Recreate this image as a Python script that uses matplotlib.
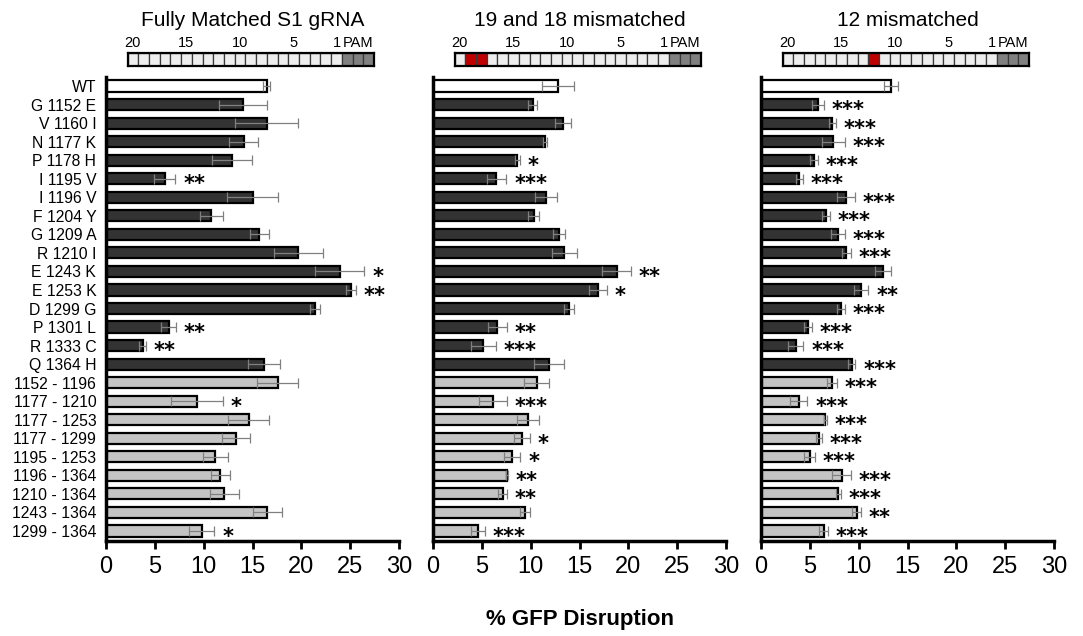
import numpy as np
import matplotlib
matplotlib.use("Agg")
import matplotlib.pyplot as plt

plt.rcParams['font.family'] = ['Liberation Sans', 'DejaVu Sans']

labels = ["WT", "G 1152 E", "V 1160 I", "N 1177 K", "P 1178 H", "I 1195 V", "I 1196 V",
          "F 1204 Y", "G 1209 A", "R 1210 I", "E 1243 K", "E 1253 K", "D 1299 G",
          "P 1301 L", "R 1333 C", "Q 1364 H", "1152 - 1196", "1177 - 1210", "1177 - 1253",
          "1177 - 1299", "1195 - 1253", "1196 - 1364", "1210 - 1364", "1243 - 1364",
          "1299 - 1364"]
groups = ["wt"] + ["single"] * 15 + ["combo"] * 9

titles = ["Fully Matched S1 gRNA", "19 and 18 mismatched", "12 mismatched"]
mismatch_pos = [[], [19, 18], [12]]

m1 = [16.45, 14.0, 16.45, 14.1, 12.9, 6.0, 15.0, 10.8, 15.7, 19.7, 23.95, 25.05, 21.4,
      6.4, 3.75, 16.2, 17.6, 9.3, 14.6, 13.3, 11.2, 11.7, 12.1, 16.5, 9.8]
e1 = [0.35, 2.45, 3.2, 1.5, 2.05, 1.1, 2.65, 1.2, 1.0, 2.5, 2.5, 0.5, 0.5,
      0.75, 0.35, 1.65, 2.1, 2.65, 2.1, 1.4, 1.3, 1.0, 1.5, 1.5, 1.3]
s1 = ["", "", "", "", "", "**", "", "", "", "", "*", "**", "",
      "**", "**", "", "", "*", "", "", "", "", "", "", "*"]

m2 = [12.8, 10.2, 13.3, 11.45, 8.65, 6.5, 11.55, 10.3, 12.9, 13.45, 18.8, 16.9, 13.9,
      6.6, 5.15, 11.9, 10.6, 6.15, 9.75, 9.1, 8.1, 7.6, 7.15, 9.4, 4.6]
e2 = [1.6, 0.45, 0.8, 0.2, 0.25, 1.0, 1.1, 0.6, 0.65, 1.25, 1.45, 0.9, 0.5,
      1.0, 1.3, 1.55, 1.3, 1.45, 1.1, 0.8, 0.85, 0.1, 0.45, 0.5, 0.7]
s2 = ["", "", "", "", "*", "***", "", "", "", "", "**", "*", "",
      "**", "***", "", "", "***", "", "*", "*", "**", "**", "", "***"]

m3 = [13.3, 5.8, 7.3, 7.4, 5.4, 3.9, 8.7, 6.65, 7.9, 8.75, 12.5, 10.25, 8.15,
      4.8, 3.55, 9.3, 7.3, 3.85, 6.6, 5.95, 5.0, 8.25, 7.9, 9.8, 6.4]
e3 = [0.75, 0.6, 0.35, 1.15, 0.4, 0.35, 0.9, 0.4, 0.7, 0.45, 0.85, 0.75, 0.4,
      0.4, 0.8, 0.35, 0.5, 0.9, 0.15, 0.3, 0.55, 0.95, 0.25, 0.45, 0.45]
s3 = ["", "***", "***", "***", "***", "***", "***", "***", "***", "***", "", "**", "***",
      "***", "***", "***", "***", "***", "***", "***", "***", "***", "***", "**", "***"]

means = [m1, m2, m3]
errs = [e1, e2, e3]
stars = [s1, s2, s3]

xticks = [0, 5, 10, 15, 20, 25, 30]
guide_nums = [20, 15, 10, 5, 1]

fill = {"wt": "white", "single": "#333333", "combo": "#c4c4c4"}

W, H = 1083, 636
fig = plt.figure(figsize=(W / 100, H / 100), dpi=100)

lefts = [106, 433, 761]
pw = 293
top_px, bot_px = 77.3, 541
y = np.arange(len(labels))

for i in range(3):
    ax = fig.add_axes([lefts[i] / W, 1 - bot_px / H, pw / W, (bot_px - top_px) / H])
    colors = [fill[g] for g in groups]
    ax.barh(y, means[i], height=0.6, color=colors, edgecolor='black', linewidth=1.6, zorder=2)
    ax.errorbar(means[i], y, xerr=errs[i], fmt='none', ecolor='#808080', elinewidth=0.9,
                capsize=3.5, capthick=0.9, zorder=3)
    for yy, mv, ev, st in zip(y, means[i], errs[i], stars[i]):
        if st:
            ax.text(mv + ev + 0.8, yy + 0.3, st, ha='left', va='center', fontsize=15,
                    fontweight='bold', color='black', family='DejaVu Sans')
    ax.set_xlim(0, 30)
    ax.set_ylim(len(labels) - 0.46, -0.47)
    ax.set_xticks(xticks)
    ax.tick_params(axis='x', direction='out', length=6, width=2, labelsize=17, pad=5)
    ax.tick_params(axis='y', length=0, labelsize=11.3, pad=7)
    if i == 0:
        ax.set_yticks(y)
        ax.set_yticklabels(labels)
    else:
        ax.set_yticks([])
    for side in ['top', 'right']:
        ax.spines[side].set_visible(False)
    for side in ['left', 'bottom']:
        ax.spines[side].set_linewidth(2.5)

    # guide RNA schematic above each panel
    cx = (lefts[i] + pw / 2) / W
    fig.text(cx, 1 - 20 / H, titles[i], ha='center', va='center', fontsize=15)
    gax = fig.add_axes([(lefts[i] + 21.5) / W, 1 - 66 / H, 246.5 / W, 13.3 / H])
    box_colors = []
    for k in range(23):
        if k >= 20:
            box_colors.append('#808080')
        elif (20 - k) in mismatch_pos[i]:
            box_colors.append('#c00000')
        else:
            box_colors.append('#eeeeee')
    gax.bar(np.arange(23), np.ones(23), width=1, align='edge', color=box_colors,
            edgecolor='#3a3a3a', linewidth=0.9)
    gax.set_xlim(0, 23)
    gax.set_ylim(0, 1)
    gax.set_xticks([])
    gax.set_yticks([])
    for sp in gax.spines.values():
        sp.set_linewidth(1.6)
        sp.set_color('black')
    for n in guide_nums:
        gax.text(20 - n + 0.5, 1.18, str(n), ha='center', va='bottom', fontsize=10.5,
                 clip_on=False)
    gax.text(21.5, 1.18, "PAM", ha='center', va='bottom', fontsize=10.5, clip_on=False)

fig.text((433 + pw / 2) / W, 1 - 620 / H, "% GFP Disruption", ha='center', va='center',
         fontsize=16, fontweight='bold')

fig.savefig("out.png", dpi=100)
